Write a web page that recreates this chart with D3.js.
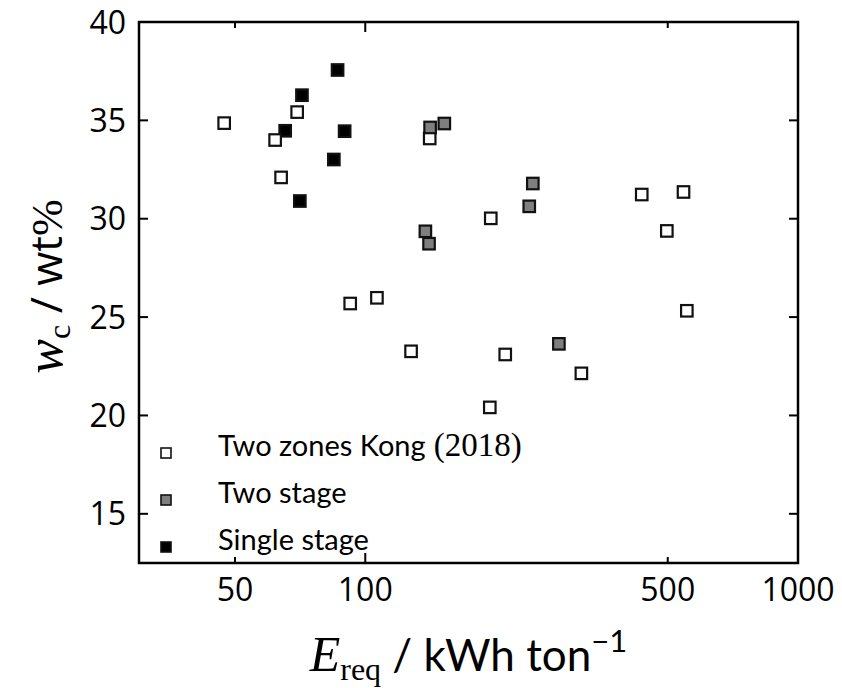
<!DOCTYPE html>
<html>
<head>
<meta charset="utf-8">
<script src="https://cdn.jsdelivr.net/npm/d3@7"></script>
<style>
  body { margin: 0; background: #fff; }
  svg { display: block; }
</style>
</head>
<body>
<div id="chart"></div>
<script>
const width = 842,
height = 688;

const margin = {top: 22, right: 44, bottom: 125, left: 139}

// tick values
const xTickValues = [50, 100, 500, 1000]
const xMajorTicks = [100, 1000]
const yTickValues = [15, 20, 25, 30, 35, 40]

// series: energy required (kWh/ton) and water content (wt%)
const twoZonesE = [47.2, 61.9, 69.6, 63.9, 140.9, 195, 92.3, 106.4, 127.6, 210.6, 194.0, 315.8, 435.4, 497.6, 543.8, 553.5]
const twoZonesW = [34.86, 34.0, 35.42, 32.1, 34.08, 30.02, 25.69, 25.98, 23.26, 23.10, 20.41, 22.14, 31.23, 29.38, 31.36, 25.32]

const twoStageE = [141.2, 152.3, 243.9, 239.3, 137.7, 140.4, 280.2]
const twoStageW = [34.64, 34.84, 31.79, 30.63, 29.36, 28.73, 23.64]

const singleStageE = [86.3, 71.4, 65.3, 89.6, 84.6, 70.6]
const singleStageW = [37.56, 36.28, 34.47, 34.45, 33.01, 30.90]

const legendLabels = ["Two zones Kong", "Two stage", "Single stage"]
const legendFills = ["#ffffff", "#7f7f7f", "#000000"]

let svg = d3.select("#chart").append("svg")
  .attr("width", width)
  .attr("height", height)

let x = d3.scaleLog()
  .domain([30, 1000])
  .range([margin.left, width - margin.right])

let y = d3.scaleLinear()
  .domain([12.5, 40])
  .range([height - margin.bottom, margin.top])

const x0 = margin.left, x1 = width - margin.right,
y0 = margin.top, y1 = height - margin.bottom

const tickFont = "'Open Sans', 'DejaVu Sans', sans-serif"

// ticks pointing inward, on all four sides
let ticks = svg.append("g").attr("stroke", "#000").attr("stroke-width", 2)

xTickValues.forEach(function(v){
  var len = xMajorTicks.indexOf(v) >= 0 ? 10 : 6
  ticks.append("line").attr("x1", x(v)).attr("x2", x(v)).attr("y1", y1).attr("y2", y1 - len)
  ticks.append("line").attr("x1", x(v)).attr("x2", x(v)).attr("y1", y0).attr("y2", y0 + len)
})

yTickValues.forEach(function(v){
  ticks.append("line").attr("x1", x0).attr("x2", x0 + 9).attr("y1", y(v)).attr("y2", y(v))
  ticks.append("line").attr("x1", x1).attr("x2", x1 - 9).attr("y1", y(v)).attr("y2", y(v))
})

// tick labels
svg.append("g").selectAll("text")
  .data(xTickValues)
  .join("text")
  .attr("x", d => x(d))
  .attr("y", 601)
  .attr("text-anchor", "middle")
  .attr("font-family", tickFont)
  .attr("font-size", 32)
  .text(d => d)

svg.append("g").selectAll("text")
  .data(yTickValues)
  .join("text")
  .attr("x", x0 - 13)
  .attr("y", d => y(d))
  .attr("dy", "0.36em")
  .attr("text-anchor", "end")
  .attr("font-family", tickFont)
  .attr("font-size", 32)
  .text(d => d)

// scatter markers
function drawSquares(es, ws, fill) {
  var pts = es.map(function(e, i){ return {e: e, w: ws[i]} })
  svg.append("g").selectAll("rect")
    .data(pts)
    .join("rect")
    .attr("x", d => x(d.e) - 5.75)
    .attr("y", d => y(d.w) - 5.75)
    .attr("width", 11.5)
    .attr("height", 11.5)
    .attr("fill", fill)
    .attr("stroke", "#111")
    .attr("stroke-width", 2.2)
}

drawSquares(singleStageE, singleStageW, legendFills[2])
drawSquares(twoZonesE, twoZonesW, legendFills[0])
drawSquares(twoStageE, twoStageW, legendFills[1])

// frame
svg.append("rect")
  .attr("x", x0).attr("y", y0)
  .attr("width", x1 - x0).attr("height", y1 - y0)
  .attr("fill", "none")
  .attr("stroke", "#000")
  .attr("stroke-width", 2.5)

// legend
let legend = svg.append("g")
legendLabels.forEach(function(lab, i){
  var cy = 453 + i * 47
  legend.append("rect")
    .attr("x", 166 - 5).attr("y", cy - 5)
    .attr("width", 10).attr("height", 10)
    .attr("fill", legendFills[i])
    .attr("stroke", "#111")
    .attr("stroke-width", 1.6)
  var t = legend.append("text")
    .attr("x", 218).attr("y", cy + 3)
    .attr("font-family", "Lato, sans-serif")
    .attr("font-size", 29)
    .text(lab)
  if(i == 0) {
    t.append("tspan")
      .attr("font-family", "'Liberation Serif', serif")
      .attr("font-size", 33)
      .text(" (2018)")
  }
})

// x axis label
let xl = svg.append("text")
  .attr("x", (x0 + x1) / 2)
  .attr("y", 671)
  .attr("text-anchor", "middle")
  .attr("font-size", 44)
xl.append("tspan").attr("font-family", "'Liberation Serif', serif").attr("font-style", "italic").attr("font-size", 50).text("E")
xl.append("tspan").attr("font-family", "'Liberation Serif', serif").attr("font-size", 32).attr("dy", 9).text("req")
xl.append("tspan").attr("font-family", "Lato, sans-serif").attr("dy", -9).text(" / kWh ton")
xl.append("tspan").attr("font-family", "Lato, sans-serif").attr("font-size", 31).attr("dy", -19).text("\u22121")

// y axis label
let yl = svg.append("text")
  .attr("transform", "translate(62," + ((y0 + y1) / 2 - 6) + ") rotate(-90)")
  .attr("text-anchor", "middle")
  .attr("font-size", 44)
yl.append("tspan").attr("font-family", "'Liberation Serif', serif").attr("font-style", "italic").attr("font-size", 52).text("w")
yl.append("tspan").attr("font-family", "'Liberation Serif', serif").attr("font-size", 32).attr("dy", 8).text("c")
yl.append("tspan").attr("font-family", tickFont).attr("dy", -8).text(" / wt")
yl.append("tspan").attr("font-family", "'Liberation Serif', serif").attr("font-size", 44).text("%")
</script>
</body>
</html>
